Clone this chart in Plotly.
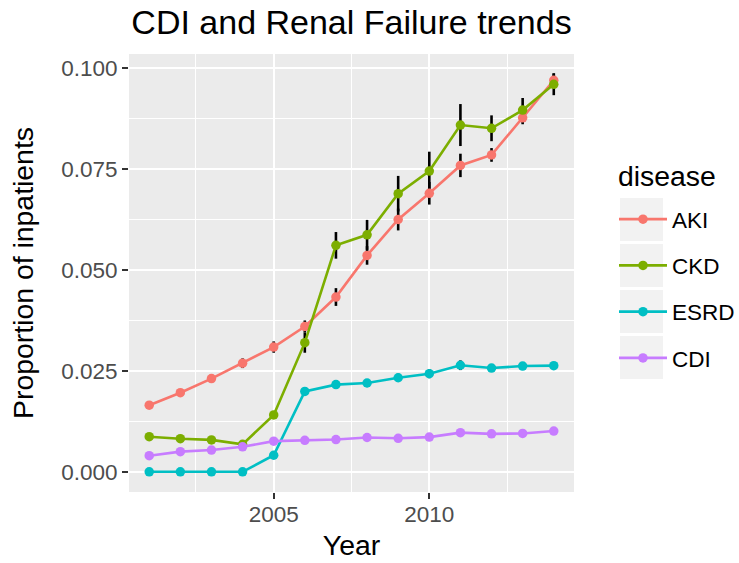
import plotly.graph_objects as go

years = list(range(2001, 2015))
diseases = ["AKI", "CKD", "ESRD", "CDI"]
colors = ["#F8766D", "#7CAE00", "#00BFC4", "#C77CFF"]

aki = [0.0165, 0.0196, 0.0231, 0.0269, 0.0309, 0.0360, 0.0433, 0.0536, 0.0625, 0.0690, 0.0759, 0.0785, 0.0877, 0.0970]
ckd = [0.0087, 0.0082, 0.0079, 0.0068, 0.0141, 0.0320, 0.0561, 0.0587, 0.0689, 0.0745, 0.0859, 0.0851, 0.0896, 0.0960]
esrd = [0.0, 0.0, 0.0, 0.0, 0.0041, 0.0199, 0.0216, 0.0220, 0.0233, 0.0243, 0.0264, 0.0257, 0.0262, 0.0263]
cdi = [0.0040, 0.0050, 0.0054, 0.0062, 0.0076, 0.0078, 0.0080, 0.0085, 0.0083, 0.0086, 0.0097, 0.0094, 0.0095, 0.0101]

aki_err = [0.0005, 0.0008, 0.0009, 0.0012, 0.0014, 0.0015, 0.0022, 0.0023, 0.0027, 0.0028, 0.0029, 0.0017, 0.0016, 0.0017]
ckd_err = [0.0003, 0.0003, 0.0003, 0.0003, 0.0005, 0.0025, 0.0033, 0.0037, 0.0044, 0.0048, 0.0052, 0.0032, 0.0030, 0.0027]
esrd_err = [0.0, 0.0, 0.0, 0.0, 0.0003, 0.0009, 0.0010, 0.0010, 0.0010, 0.0011, 0.0012, 0.0006, 0.0005, 0.0005]
cdi_err = [0.0002, 0.0002, 0.0002, 0.0002, 0.0002, 0.0002, 0.0002, 0.0002, 0.0002, 0.0002, 0.0003, 0.0002, 0.0002, 0.0002]

values = [aki, ckd, esrd, cdi]
errors = [aki_err, ckd_err, esrd_err, cdi_err]

y_ticks = [0.0, 0.025, 0.05, 0.075, 0.1]
y_ticklabels = ["0.000", "0.025", "0.050", "0.075", "0.100"]
x_ticks = [2005, 2010]
x_ticklabels = ["2005", "2010"]

FONT = "Liberation Sans, Arial, Helvetica, sans-serif"
TICK = 22.5
AXT = 28.4

fig = go.Figure()

# error bars (drawn underneath)
for name, vals, errs in zip(diseases, values, errors):
    fig.add_trace(go.Scatter(
        x=years, y=vals, mode="markers",
        marker=dict(size=1, opacity=0),
        error_y=dict(type="data", array=errs, visible=True, color="black",
                     thickness=2.6, width=0),
        showlegend=False, hoverinfo="skip"))

for name, vals, col in zip(diseases, values, colors):
    fig.add_trace(go.Scatter(
        x=years, y=vals, mode="lines+markers", name=name,
        legendgroup=name,
        line=dict(color=col, width=2.6),
        marker=dict(color=col, size=9.5)))

# legend key backgrounds (ggplot style)
key_top = 198
for i in range(4):
    y0 = key_top + i * 46
    fig.add_shape(type="rect", xref="paper", yref="paper",
                  x0=(620 - 129) / 445, x1=(663 - 129) / 445,
                  y0=1 - (y0 + 43 - 54) / 438, y1=1 - (y0 - 54) / 438,
                  fillcolor="#F2F2F2", line=dict(width=0), layer="below")

# legend title
fig.add_annotation(text="disease", xref="paper", yref="paper",
                   x=(616 - 129) / 445, xanchor="left",
                   y=1 - (176 - 54) / 438, yanchor="middle",
                   showarrow=False, font=dict(size=AXT, color="black", family=FONT))

fig.update_layout(
    width=739, height=563,
    margin=dict(l=129, r=165, t=54, b=71, autoexpand=False),
    paper_bgcolor="white", plot_bgcolor="#EBEBEB",
    font=dict(family=FONT, color="black"),
    title=dict(text="CDI and Renal Failure trends", x=0.5, xref="paper",
               xanchor="center", y=1 - 22 / 563, yref="container", yanchor="middle",
               font=dict(size=34, color="black", family=FONT)),
    legend=dict(x=(614 - 129) / 445, xanchor="left", y=1 - (198 - 54) / 438, yanchor="top",
                font=dict(size=TICK, color="black"), bgcolor="rgba(0,0,0,0)",
                tracegroupgap=14, itemwidth=48),
    showlegend=True,
)

fig.update_xaxes(
    range=[2000.35, 2014.65], tickmode="array", tickvals=x_ticks, ticktext=x_ticklabels,
    showgrid=True, gridcolor="white", gridwidth=2.2, zeroline=False,
    ticks="outside", ticklen=6, tickwidth=2, tickcolor="#333333",
    tickfont=dict(size=TICK, color="#4D4D4D"), ticklabelstandoff=-4,
    minor=dict(tickmode="array", tickvals=[2002.5, 2007.5, 2012.5], showgrid=True,
               gridcolor="white", gridwidth=1.1, ticks=""),
    title=dict(text="Year", font=dict(size=AXT, color="black"), standoff=9),
    automargin=False, showline=False)

fig.update_yaxes(
    range=[-0.005, 0.1035], tickmode="array", tickvals=y_ticks, ticktext=y_ticklabels,
    showgrid=True, gridcolor="white", gridwidth=2.2, zeroline=False,
    ticks="outside", ticklen=6, tickwidth=2, tickcolor="#333333",
    tickfont=dict(size=TICK, color="#4D4D4D"),
    minor=dict(tickmode="array", tickvals=[0.0125, 0.0375, 0.0625, 0.0875], showgrid=True,
               gridcolor="white", gridwidth=1.1, ticks=""),
    title=dict(text="Proportion of inpatients", font=dict(size=AXT, color="black"), standoff=19),
    automargin=False, showline=False)

fig.write_html("out.html", config={"displayModeBar": False},
               post_script="document.body.style.margin='0';")
